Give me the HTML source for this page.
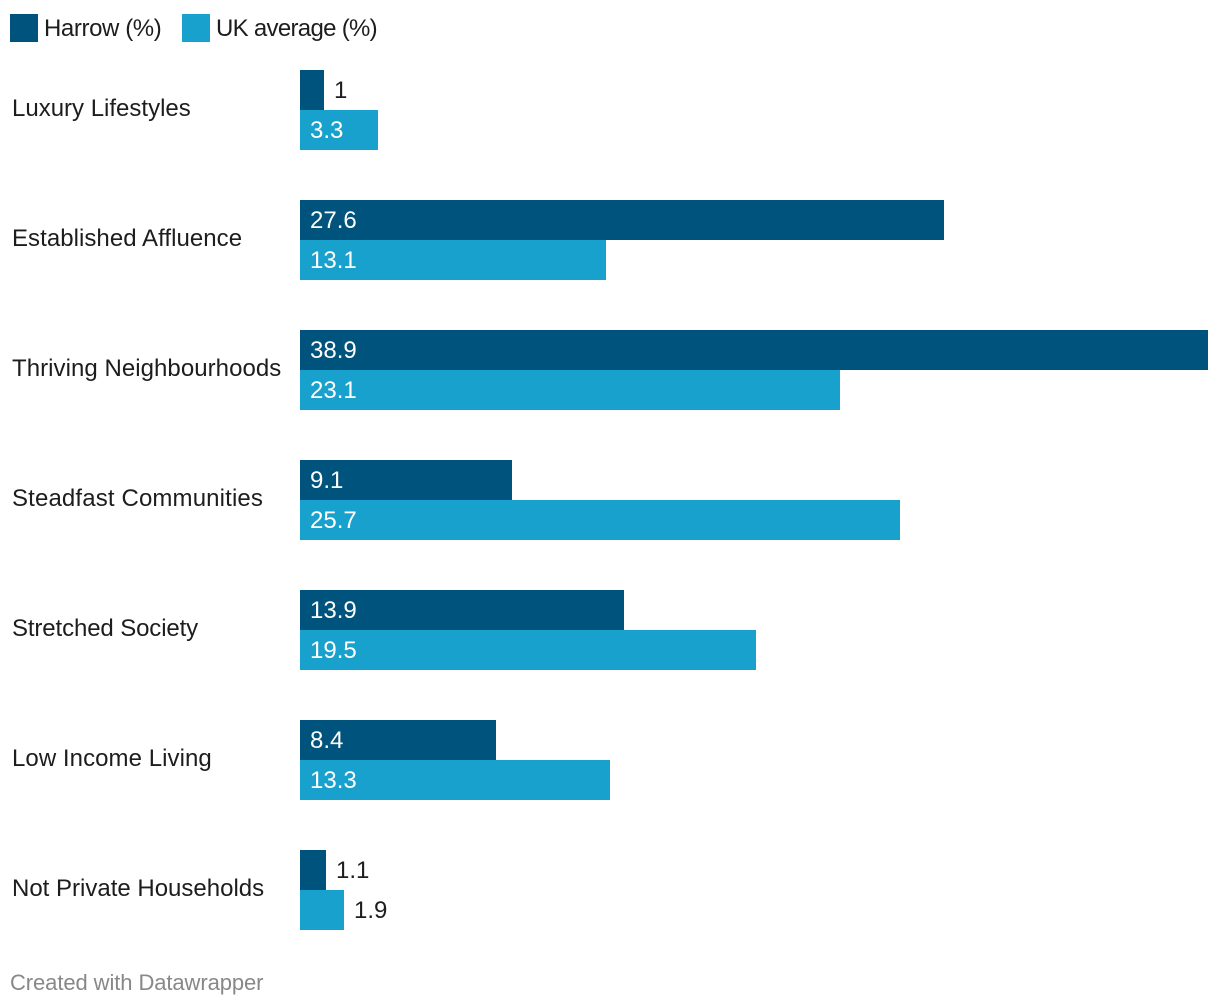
<!DOCTYPE html>
<html lang="en">
<head>
<meta charset="utf-8">
<title>Harrow vs UK average</title>
<style>
html,body{margin:0;padding:0;background:#fff;}
svg{display:block;}
text{font-family:"Liberation Sans",sans-serif;font-size:24px;fill:#1d1d1d;}
</style>
</head>
<body>
<svg id="chart" width="1220" height="1006" viewBox="0 0 1220 1006" xmlns="http://www.w3.org/2000/svg">
  <g>
    <rect x="10" y="14" width="28" height="28" fill="#00537c"/>
    <text x="44" y="36" style="letter-spacing:-0.4px">Harrow (%)</text>
    <rect x="182" y="14" width="28" height="28" fill="#18a1cd"/>
    <text x="216" y="36" style="letter-spacing:-0.7px">UK average (%)</text>
  </g>
  <g id="plot"></g>
  <text x="10" y="990" style="font-size:22px;fill:#888888;letter-spacing:-0.09px">Created with Datawrapper</text>
</svg>
<script>
const categories = ["Luxury Lifestyles","Established Affluence","Thriving Neighbourhoods","Steadfast Communities","Stretched Society","Low Income Living","Not Private Households"];
const harrowValues = [1,27.6,38.9,9.1,13.9,8.4,1.1];
const ukValues = [3.3,13.1,23.1,25.7,19.5,13.3,1.9];

const NS = "http://www.w3.org/2000/svg";
const plot = document.getElementById("plot");
const X0 = 300, PX_PER_UNIT = 454 / 38.9;
const TOP = 70, BAR_H = 40, STEP = 130;
const xLen = v => Math.round(v * PX_PER_UNIT) * 2;
const groupY = i => TOP + i * STEP;
const labelTracking = {
  "Established Affluence": 0.05,
  "Thriving Neighbourhoods": 0.05,
  "Steadfast Communities": 0.14,
  "Stretched Society": -0.12,
  "Low Income Living": 0.06
};

function drawBar(i, slot, value, color, seriesName) {
  const y = groupY(i) + slot * BAR_H;
  const w = xLen(value);
  const rect = document.createElementNS(NS, "rect");
  rect.setAttribute("x", X0);
  rect.setAttribute("y", y);
  rect.setAttribute("width", w);
  rect.setAttribute("height", BAR_H);
  rect.setAttribute("fill", color);
  
  
  plot.appendChild(rect);

  const t = document.createElementNS(NS, "text");
  t.textContent = String(value);
  const inside = w > 60;
  t.setAttribute("x", inside ? X0 + 10 : X0 + w + 10);
  t.setAttribute("y", y + 28);
  if (inside) t.style.fill = "#ffffff";
  
  
  plot.appendChild(t);
}

categories.forEach((name, i) => {
  const label = document.createElementNS(NS, "text");
  label.textContent = name;
  label.setAttribute("x", 12);
  label.setAttribute("y", groupY(i) + 46);
  if (labelTracking[name]) label.style.letterSpacing = labelTracking[name] + "px";
  
  
  plot.appendChild(label);
  drawBar(i, 0, harrowValues[i], "#00537c", "harrow");
  drawBar(i, 1, ukValues[i], "#18a1cd", "uk-average");
});
</script>
</body>
</html>
